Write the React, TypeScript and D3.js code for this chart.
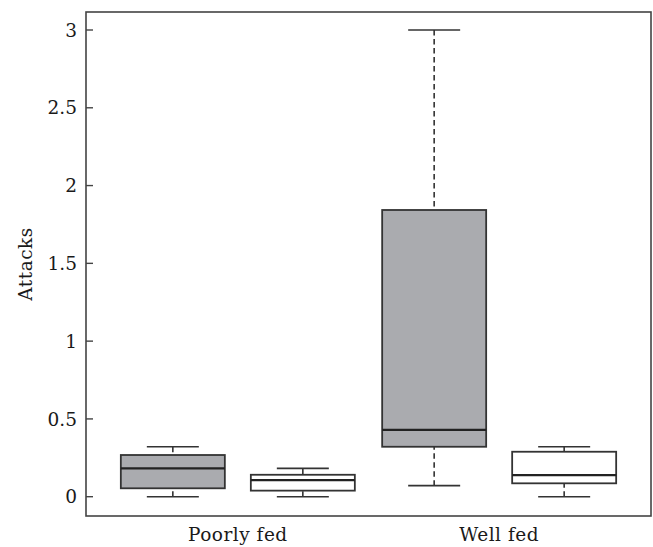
import React from "react";
import * as d3 from "d3";

const groups = ["Poorly fed", "Well fed"];
const treatments = ["grey", "white"];
const yTicks = [0, 0.5, 1, 1.5, 2, 2.5, 3];

const boxGroup = ["Poorly fed", "Poorly fed", "Well fed", "Well fed"];
const boxTreatment = ["grey", "white", "grey", "white"];
const boxMin = [0, 0, 0.071, 0];
const boxQ1 = [0.054, 0.039, 0.321, 0.086];
const boxMedian = [0.182, 0.107, 0.429, 0.139];
const boxQ3 = [0.268, 0.141, 1.843, 0.289];
const boxMax = [0.321, 0.182, 3.0, 0.321];

const W = 653;
const H = 547;
const left = 86;
const right = 651;
const top = 12;
const bottom = 516;

const FONT = "'DejaVu Serif', serif";

export default function App() {
  const y = d3.scaleLinear().domain([0, 3]).range([496.7, 30]);
  const x = d3.scalePoint<string>().domain(groups).range([left, right]).padding(0.581);
  const xi = d3.scaleBand<string>().domain(treatments).range([-130, 130]).paddingInner(0.2).paddingOuter(0.1);
  const bw = xi.bandwidth();
  const fills: Record<string, string> = { grey: "#aaabaf", white: "#ffffff" };
  const stroke = "#333";

  const boxes = boxGroup.map((g, i) => ({
    g,
    t: boxTreatment[i],
    min: boxMin[i],
    q1: boxQ1[i],
    med: boxMedian[i],
    q3: boxQ3[i],
    max: boxMax[i],
  }));

  return (
    <div style={{ position: "absolute", left: 0, top: 0 }}>
      <svg width={W} height={H} style={{ display: "block", background: "#fff" }}>
        {boxes.map((b, i) => {
          const x0 = (x(b.g) as number) + (xi(b.t) as number);
          const cx = x0 + bw / 2;
          const capHalf = bw / 4;
          return (
            <g key={i}>
              <line x1={cx} x2={cx} y1={y(b.max)} y2={y(b.q3)} stroke={stroke} strokeWidth={1.6} strokeDasharray="5.5,3.5" />
              <line x1={cx} x2={cx} y1={y(b.min)} y2={y(b.q1)} stroke={stroke} strokeWidth={1.6} strokeDasharray="5.5,3.5" />
              <line x1={cx - capHalf} x2={cx + capHalf} y1={y(b.max)} y2={y(b.max)} stroke={stroke} strokeWidth={1.6} />
              <line x1={cx - capHalf} x2={cx + capHalf} y1={y(b.min)} y2={y(b.min)} stroke={stroke} strokeWidth={1.6} />
              <rect x={x0} y={y(b.q3)} width={bw} height={y(b.q1) - y(b.q3)} fill={fills[b.t]} stroke={stroke} strokeWidth={1.8} />
              <line x1={x0} x2={x0 + bw} y1={y(b.med)} y2={y(b.med)} stroke="#222" strokeWidth={2.2} />
            </g>
          );
        })}
        <rect x={left} y={top} width={right - left} height={bottom - top} fill="none" stroke="#444" strokeWidth={1.6} />
        {yTicks.map((t) => (
          <g key={t}>
            <line x1={left} x2={left + 7} y1={y(t)} y2={y(t)} stroke="#444" strokeWidth={1.4} />
            <text x={77} y={y(t)} dy="0.36em" textAnchor="end" fontFamily={FONT} fontSize={18.5} fill="#1a1a1a">
              {t}
            </text>
          </g>
        ))}
        {groups.map((g) => (
          <text key={g} x={x(g) as number} y={541} textAnchor="middle" fontFamily={FONT} fontSize={18.5} letterSpacing={0.5} fill="#1a1a1a">
            {g}
          </text>
        ))}
        <text transform={`translate(32,${(top + bottom) / 2}) rotate(-90)`} textAnchor="middle" fontFamily={FONT} fontSize={18.5} letterSpacing={0.5} fill="#1a1a1a">
          Attacks
        </text>
      </svg>
    </div>
  );
}
